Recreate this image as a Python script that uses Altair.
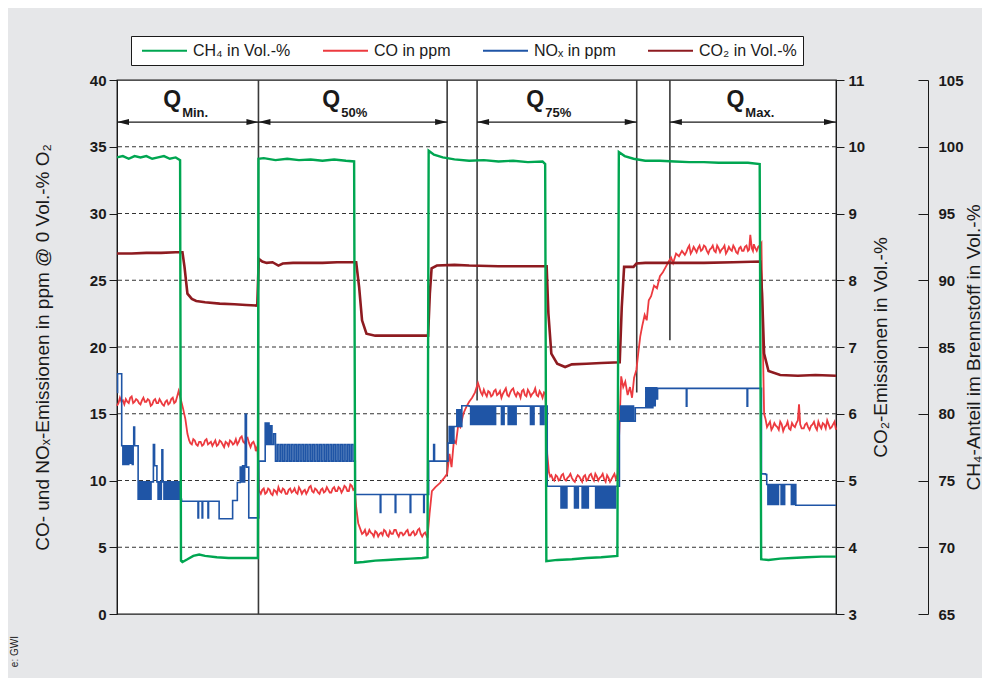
import altair as alt
import pandas as pd

# ---------------- data ----------------
series_names = ["CH₄ in Vol.-%", "CO in ppm", "NOₓ in ppm", "CO₂ in Vol.-%"]
series_colors = ["#00a651", "#ec3a3f", "#1f55a6", "#8e1b20"]

ch4_points = [
    (0, 99.2), (2, 99.3), (4, 99.1), (6, 99.3), (8, 99.2), (10, 99.3), (12, 99.1), (14, 99.2),
    (16, 99.3), (18, 99.1), (20, 99.2), (21.5, 99.0),
    (21.8, 69.0), (22.3, 68.9), (24, 69.1), (26, 69.35), (28, 69.45), (30, 69.35), (34, 69.25),
    (38, 69.2), (42, 69.2), (46, 69.2), (48.0, 69.2),
    (48.2, 99.1), (50, 99.15), (54, 99.0), (58, 99.1), (62, 99.0), (66, 99.05), (70, 98.95),
    (74, 99.05), (78, 98.95), (80.8, 98.9),
    (81.2, 68.85), (84, 68.9), (88, 69.0), (92, 69.05), (96, 69.1), (100, 69.15), (104, 69.2), (105.8, 69.25),
    (106.2, 99.7), (108, 99.4), (111, 99.2), (115, 99.05), (120, 98.95), (125, 99.0), (130, 98.9),
    (135, 98.95), (140, 98.85), (145, 98.9), (145.9, 98.7),
    (146.3, 68.95), (150, 69.05), (155, 69.1), (160, 69.2), (165, 69.25), (170.5, 69.35),
    (171.0, 99.6), (173, 99.3), (176, 99.1), (180, 98.95), (185, 98.95), (190, 98.9), (195, 98.85),
    (200, 98.85), (205, 98.8), (210, 98.8), (215, 98.8), (219.0, 98.7),
    (219.5, 69.1), (222, 69.05), (226, 69.15), (230, 69.2), (235, 69.25), (240, 69.3), (245, 69.3),
]

co2_points = [
    (0, 8.40), (5, 8.40), (10, 8.41), (15, 8.41), (20, 8.42), (22.3, 8.42), (23.0, 8.2), (24, 7.8),
    (25.5, 7.72), (27, 7.69), (30, 7.67), (35, 7.65), (40, 7.64), (44, 7.63), (47.8, 7.62),
    (48.3, 8.32), (49.5, 8.28), (51, 8.26), (53, 8.27), (55, 8.22), (56.5, 8.25), (60, 8.26),
    (65, 8.26), (70, 8.26), (75, 8.27), (81.5, 8.27), (82.5, 7.9), (83.5, 7.4), (85, 7.2),
    (88, 7.17), (95, 7.17), (100, 7.17), (106, 7.17), (106.6, 7.8), (107.2, 8.18), (109, 8.22),
    (115, 8.23), (120, 8.22), (130, 8.21), (140, 8.21), (146.4, 8.21), (147, 7.5), (148, 6.9),
    (150, 6.75), (152.7, 6.70), (155, 6.74), (160, 6.75), (165, 6.76), (171.3, 6.77), (172, 7.6),
    (172.8, 8.2), (176, 8.2), (177, 8.25), (180, 8.26), (190, 8.26), (200, 8.26), (210, 8.27),
    (219.2, 8.28), (219.8, 7.8), (220.5, 6.9), (222, 6.64), (226, 6.58), (232, 6.57), (238, 6.58),
    (245, 6.57),
]

co_points = [
    (0, 15.6), (0.5, 15.8), (1, 16.2), (1.5, 15.9), (2, 16.0), (2.5, 15.7), (3, 16.1), (3.5, 15.9),
    (4, 15.8), (4.5, 16.2), (5, 16.3), (5.5, 15.8), (6, 15.9), (6.5, 16.1), (7, 16.0), (7.5, 15.8),
    (8, 15.7), (8.5, 16.0), (9, 16.2), (9.5, 15.9), (10, 15.9), (10.5, 16.1), (11, 16.0), (11.5, 15.6),
    (12, 15.7), (12.5, 16.0), (13, 16.1), (13.5, 15.8), (14, 15.8), (14.5, 16.1), (15, 15.9),
    (15.5, 15.7), (16, 15.6), (16.5, 15.9), (17, 16.0), (17.5, 15.7), (18, 15.8), (18.5, 16.1),
    (19, 16.2), (19.5, 15.8), (20, 15.9), (20.5, 16.3), (21, 16.7), (21.7, 16.1),
    (22.5, 15.4), (23.3, 14.6), (24.0, 13.5), (24.6, 13.0),
    (25.0, 12.8), (25.5, 12.7), (26.0, 13.1), (26.5, 13.0), (27.0, 12.7), (27.5, 12.6), (28.0, 12.9),
    (28.5, 12.9), (29.0, 12.6), (29.5, 12.7), (30.0, 13.0), (30.5, 13.1), (31.0, 12.7), (31.5, 12.8),
    (32.0, 12.9), (32.5, 12.6), (33.0, 12.8), (33.5, 13.0), (34.0, 12.6), (34.5, 12.7), (35.0, 13.0),
    (35.5, 12.9), (36.0, 12.7), (36.5, 12.5), (37.0, 12.9), (37.5, 12.8), (38.0, 12.6), (38.5, 13.0),
    (39.0, 12.9), (39.5, 12.7), (40.0, 12.8), (40.5, 13.1), (41.0, 12.7), (41.5, 12.9), (42.0, 13.2),
    (42.5, 13.3), (43.0, 12.9), (43.5, 12.8), (44.0, 13.1), (44.5, 13.2), (45.0, 12.8), (45.5, 12.5),
    (46.0, 12.8), (46.5, 12.9), (47.0, 12.6), (47.3, 12.2), (47.9, 12.6),
    (48.3, 9.3), (49, 9.0), (49.5, 9.3), (50, 9.4), (50.5, 9.0), (51, 9.1), (51.5, 9.4), (52, 9.3),
    (52.5, 9.0), (53, 8.9), (53.5, 9.3), (54, 9.2), (54.5, 9.0), (55, 9.5), (55.5, 9.2), (56, 9.1),
    (56.5, 9.4), (57, 9.3), (57.5, 9.0), (58, 9.0), (58.5, 9.3), (59, 9.4), (59.5, 9.1), (60, 9.2),
    (60.5, 9.4), (61, 9.1), (61.5, 9.0), (62, 9.5), (62.5, 9.3), (63, 9.0), (63.5, 9.2), (64, 9.3),
    (64.5, 9.0), (65, 9.2), (65.5, 9.5), (66, 9.6), (66.5, 9.2), (67, 9.1), (67.5, 9.4), (68, 9.3),
    (68.5, 9.1), (69, 9.0), (69.5, 9.3), (70, 9.4), (70.5, 9.1), (71, 9.2), (71.5, 9.5), (72, 9.3),
    (72.5, 9.1), (73, 9.1), (73.5, 9.4), (74, 9.5), (74.5, 9.2), (75, 9.2), (75.5, 9.5), (76, 9.4),
    (76.5, 9.1), (77, 9.3), (77.5, 9.6), (78, 9.5), (78.5, 9.2), (79, 9.2), (79.5, 9.7), (80, 9.6),
    (80.5, 9.3), (81, 9.4),
    (81.5, 8.0), (82.2, 6.8), (83, 6.3),
    (83.5, 6.0), (84, 6.1), (84.5, 6.3), (85, 5.9), (85.5, 6.0), (86, 6.3), (86.5, 6.1), (87, 6.0),
    (87.5, 5.8), (88, 6.2), (88.5, 6.1), (89, 5.8), (89.5, 6.0), (90, 6.1), (90.5, 5.9), (91, 6.3),
    (91.5, 6.2), (92, 5.9), (92.5, 5.8), (93, 6.2), (93.5, 6.0), (94, 6.0), (94.5, 6.3), (95, 6.3),
    (95.5, 6.0), (96, 5.8), (96.5, 6.1), (97, 6.1), (97.5, 5.9), (98, 6.0), (98.5, 6.2), (99, 6.3),
    (99.5, 5.9), (100, 5.9), (100.5, 6.1), (101, 6.2), (101.5, 5.9), (102, 6.0), (102.5, 6.3),
    (103, 6.4), (103.5, 6.0), (104, 5.8), (104.5, 6.0), (105, 6.1), (105.8, 5.7),
    (106.5, 7.5), (107.3, 9.2), (108.5, 9.5), (110, 9.8), (111.5, 10.2), (112.5, 10.5), (113.3, 12.0),
    (114, 11.0), (114.8, 13.0), (115.5, 12.8), (116.3, 14.2), (117, 14.0), (118, 15.0), (119, 15.5),
    (120, 15.9), (121, 16.2), (122, 16.6), (123, 17.3), (124, 16.6),
    (124.5, 16.4), (125, 16.8), (125.5, 16.5), (126, 16.3), (126.5, 16.7), (127, 16.6), (127.5, 16.3),
    (128, 16.4), (128.5, 16.7), (129, 16.8), (129.5, 16.4), (130, 16.5), (130.5, 16.7), (131, 16.2),
    (131.5, 16.5), (132, 16.7), (132.5, 16.9), (133, 16.4), (133.5, 16.3), (134, 16.6), (134.5, 16.8),
    (135, 16.9), (135.5, 16.5), (136, 16.3), (136.5, 16.6), (137, 16.5), (137.5, 16.2), (138, 16.7),
    (138.5, 16.8), (139, 16.4), (139.5, 16.3), (140, 16.8), (140.5, 16.6), (141, 16.3), (141.5, 16.5),
    (142, 16.6), (142.5, 16.9), (143, 16.4), (143.5, 16.3), (144, 16.7), (144.5, 16.5), (145, 16.2),
    (145.5, 16.6), (146, 16.5),
    (146.6, 12.0), (147.2, 10.6),
    (147.6, 10.3), (148, 10.4), (148.5, 10.1), (149, 10.0), (149.5, 10.4), (150, 10.3), (150.5, 10.0),
    (151, 10.1), (151.5, 10.4), (152, 10.5), (152.5, 10.1), (153, 10.0), (153.5, 10.2), (154, 10.3),
    (154.5, 10.5), (155, 10.2), (155.5, 10.0), (156, 9.9), (156.5, 10.2), (157, 10.4), (157.5, 10.3),
    (158, 10.1), (158.5, 9.9), (159, 10.3), (159.5, 10.4), (160, 10.0), (160.5, 10.1), (161, 10.4),
    (161.5, 10.5), (162, 10.2), (162.5, 10.0), (163, 10.5), (163.5, 10.3), (164, 10.0), (164.5, 10.2),
    (165, 10.3), (165.5, 10.5), (166, 10.1), (166.5, 9.9), (167, 10.4), (167.5, 10.2), (168, 9.9),
    (168.5, 10.1), (169, 10.3), (169.5, 10.5), (170, 10.1), (170.6, 10.5),
    (171.2, 14.0), (171.8, 17.8), (172.5, 17.0), (173.2, 17.4), (174, 16.4), (174.8, 17.0),
    (175.5, 16.2), (176.2, 17.7), (177, 18.3), (177.6, 19.5), (178.3, 20.8), (179, 21.6),
    (179.8, 22.4), (180.5, 22.0), (181.2, 23.5), (182, 23.8), (183, 24.6), (184, 24.4),
    (185, 25.3), (186, 25.6), (187, 26.0), (188, 26.4), (188.8, 26.7), (189.5, 26.3),
    (190.5, 27.0), (191.5, 26.8), (192.5, 27.2), (193.5, 26.9),
    (194.0, 27.1), (194.5, 27.4), (195.0, 27.6), (195.5, 27.0), (196.0, 27.2), (196.5, 27.5),
    (197.0, 27.3), (197.5, 27.1), (198.0, 27.4), (198.5, 27.6), (199.0, 27.2), (199.5, 27.3),
    (200.0, 27.6), (200.5, 27.5), (201.0, 27.2), (201.5, 27.0), (202.0, 27.3), (202.5, 27.4),
    (203.0, 27.6), (203.5, 27.2), (204.0, 27.1), (204.5, 27.6), (205.0, 27.4), (205.5, 27.1),
    (206.0, 27.3), (206.5, 27.4), (207.0, 27.6), (207.5, 27.0), (208.0, 27.2), (208.5, 27.5),
    (209.0, 27.3), (209.5, 27.2), (210.0, 27.6), (210.5, 27.4), (211.0, 27.1), (211.5, 27.0),
    (212.0, 27.4), (212.5, 27.5), (213.0, 27.2), (213.5, 27.2), (214.0, 27.5), (214.5, 27.6),
    (215.0, 27.2), (215.4, 27.3), (215.8, 28.4), (216.3, 27.4), (216.7, 27.2), (217, 27.7),
    (217.5, 27.4), (218, 27.2), (218.5, 27.5), (219, 27.6), (219.6, 27.8),
    (220.1, 20.0), (220.5, 15.0), (221, 14.6),
    (221.5, 14.0), (222, 14.2), (222.5, 14.4), (223, 13.8), (223.5, 14.0), (224, 14.3), (224.5, 14.1),
    (225, 14.0), (225.5, 13.8), (226, 14.4), (226.5, 14.2), (227, 13.7), (227.5, 14.0), (228, 14.1),
    (228.5, 14.4), (229, 13.9), (229.5, 13.8), (230, 14.3), (230.5, 14.1), (231, 14.0), (231.5, 14.3),
    (232, 14.5), (232.4, 15.7), (232.8, 14.2), (233.3, 13.9), (234, 13.9), (234.5, 14.2), (235, 14.3),
    (235.5, 14.0), (236, 13.8), (236.5, 14.1), (237, 14.2), (237.5, 14.4), (238, 14.0), (238.5, 13.8),
    (239, 14.4), (239.5, 14.1), (240, 13.9), (240.5, 14.3), (241, 14.2), (241.5, 13.9), (242, 14.5),
    (242.5, 14.2), (243, 13.9), (243.5, 14.0), (244, 14.2), (244.5, 14.4), (245, 13.8),
]

nox_points = [
    (0, 16.6), (0.2, 18.0), (1.4, 18.0), (1.6, 12.6), (2.0, 11.2), (2.4, 12.6), (2.8, 11.2),
    (3.2, 12.6), (3.6, 11.2), (4.0, 12.6), (4.4, 11.3), (4.8, 12.6), (5.2, 11.2), (5.5, 12.6),
    (5.7, 14.0), (6.0, 12.6), (7.0, 12.6), (7.2, 8.6), (7.6, 9.9), (8.0, 8.6), (8.4, 9.9),
    (8.8, 8.6), (9.2, 9.9), (9.6, 8.6), (10.0, 9.9), (10.4, 8.6), (10.8, 9.9), (11.2, 8.6),
    (11.6, 9.9), (12.0, 9.9), (12.4, 12.7), (12.8, 11.1), (13.3, 11.1), (13.6, 9.9), (14.0, 8.6),
    (14.4, 9.9), (14.8, 8.6), (15.1, 9.9), (15.3, 12.3), (15.6, 9.9), (16.0, 8.6), (16.4, 9.9),
    (16.8, 8.6), (17.2, 9.9), (17.6, 8.6), (18.0, 9.9), (18.4, 8.6), (18.8, 9.9), (19.2, 8.6),
    (19.6, 9.9), (20.0, 8.6), (20.4, 9.9), (20.8, 8.6), (21.2, 9.9), (21.7, 8.6),
    (22.0, 8.45), (27.4, 8.45), (27.6, 7.2), (27.8, 8.45), (28.8, 8.45), (29.0, 7.2), (29.2, 8.45),
    (30.8, 8.45), (31.0, 7.2), (31.2, 8.45), (34.6, 8.45), (34.8, 7.13), (39.1, 7.13), (39.4, 8.5),
    (40.7, 8.5), (41.0, 9.85), (41.6, 9.85), (42.0, 11.0), (42.4, 9.9), (42.8, 11.1), (43.2, 9.9),
    (43.5, 11.1), (43.7, 14.95), (44.1, 11.0), (44.6, 11.0), (44.9, 7.2), (48.0, 7.2),
    (48.3, 11.45), (50.2, 11.45), (50.5, 14.3), (50.9, 12.7), (51.3, 14.3), (51.8, 12.7),
    (52.3, 14.1), (52.8, 12.7), (53.4, 13.5), (54.0, 11.45),
    (54.6, 12.7), (55.2, 11.45), (55.8, 12.7), (56.4, 11.45), (57.0, 12.7), (57.6, 11.45),
    (58.2, 12.7), (58.8, 11.45), (59.4, 12.7), (60.0, 11.45), (60.6, 12.7), (61.2, 11.45),
    (61.8, 12.7), (62.4, 11.45), (63.0, 12.7), (63.6, 11.45), (64.2, 12.7), (64.8, 11.45),
    (65.4, 12.7), (66.0, 11.45), (66.6, 12.7), (67.2, 11.45), (67.8, 12.7), (68.4, 11.45),
    (69.0, 12.7), (69.6, 11.45), (70.2, 12.7), (70.8, 11.45), (71.4, 12.7), (72.0, 11.45),
    (72.6, 12.7), (73.2, 11.45), (73.8, 12.7), (74.4, 11.45), (75.0, 12.7), (75.6, 11.45),
    (76.2, 12.7), (76.8, 11.45), (77.4, 12.7), (78.0, 11.45), (78.6, 12.7), (79.2, 11.45),
    (79.8, 12.7), (80.4, 11.45), (80.8, 11.45),
    (81.2, 8.95), (89.5, 8.95), (89.7, 7.6), (89.9, 8.95), (94.6, 8.95), (94.8, 7.6), (95.0, 8.95),
    (99.7, 8.95), (99.9, 7.6), (100.1, 8.95), (104.3, 8.95), (104.5, 7.6), (104.7, 8.95),
    (105.8, 8.95), (106.2, 11.45), (107.6, 11.45), (107.9, 12.7), (108.2, 11.45), (112.4, 11.45),
    (112.8, 12.8), (113.2, 14.05), (113.6, 12.8), (114.0, 14.05), (114.4, 12.8), (114.8, 14.05),
    (115.4, 14.05), (115.8, 15.3), (116.2, 14.05), (116.6, 15.3), (117.0, 14.05), (117.5, 15.6),
    (120.0, 15.57), (120.5, 14.2), (121.0, 15.57), (121.5, 14.2), (122.0, 15.57), (122.5, 14.2),
    (123.0, 15.57), (123.5, 14.2), (124.0, 15.57), (124.5, 14.2), (125.0, 15.57), (125.5, 14.2),
    (126.0, 15.57), (126.5, 14.2), (127.0, 15.57), (127.5, 14.2), (128.0, 15.57), (128.5, 14.2),
    (129.0, 15.57), (130.8, 15.57), (131.0, 14.2), (131.3, 15.57), (131.6, 14.2), (131.9, 15.57),
    (133.0, 15.57), (133.3, 14.2), (133.7, 15.57), (134.1, 14.2), (134.5, 15.57), (134.9, 14.2),
    (135.3, 15.57), (135.7, 14.2), (136.0, 15.57), (140.6, 15.57), (140.9, 14.2), (141.3, 15.57),
    (141.7, 14.2), (142.1, 15.57), (144.0, 15.57), (144.3, 14.2), (144.7, 15.57), (145.1, 14.2),
    (145.5, 15.57), (146.2, 15.57), (146.6, 9.57),
    (151.0, 9.57), (151.3, 7.95), (151.7, 9.57), (152.1, 7.95), (152.5, 9.57), (152.9, 7.95),
    (153.3, 9.57), (155.6, 9.57), (155.9, 7.95), (156.3, 9.57), (156.8, 7.95), (157.2, 9.57),
    (158.2, 9.57), (158.5, 7.95), (158.9, 9.57), (159.3, 7.95), (159.7, 9.57), (160.2, 7.95),
    (160.6, 9.57), (162.8, 9.57), (163.1, 7.95), (163.5, 9.57), (163.9, 7.95), (164.3, 9.57),
    (164.7, 7.95), (165.1, 9.57), (165.5, 7.95), (165.9, 9.57), (166.3, 7.95), (166.7, 9.57),
    (167.1, 7.95), (167.5, 9.57), (167.9, 7.95), (168.3, 9.57), (168.7, 7.95), (169.1, 9.57),
    (169.5, 7.95), (169.9, 9.57), (170.6, 9.57),
    (171.2, 14.45), (171.6, 15.57), (172.0, 14.45), (172.4, 15.57), (172.8, 14.45), (173.2, 15.57),
    (173.6, 14.45), (174.0, 15.57), (174.4, 14.45), (174.8, 15.57), (175.2, 14.45), (175.6, 15.57),
    (176.0, 14.45), (176.6, 15.45), (180.0, 15.45), (180.2, 16.95), (180.6, 15.45), (181.0, 16.95),
    (181.4, 15.45), (181.8, 16.95), (182.2, 15.45), (182.6, 16.95), (183.0, 15.6), (183.4, 16.95),
    (183.9, 16.1), (184.2, 16.9), (193.8, 16.9), (194.0, 15.57), (194.2, 16.9), (214.5, 16.9),
    (214.7, 15.57), (214.9, 16.9), (219.3, 16.9), (219.6, 10.5), (221.0, 10.45), (221.4, 9.7),
    (221.8, 8.2), (222.2, 9.7), (222.6, 8.2), (223.0, 9.7), (223.4, 8.2), (223.8, 9.7), (224.2, 8.2),
    (224.6, 9.7), (225.0, 8.2), (225.4, 9.7), (226.0, 9.7), (226.3, 8.2), (226.7, 9.7), (227.1, 8.2),
    (227.5, 9.7), (229.5, 9.7), (229.8, 8.2), (230.2, 9.7), (230.6, 8.2), (231.0, 9.7), (231.3, 8.15),
    (245, 8.15),
]

x_ticks = [0, 20, 40, 60, 80, 100, 120, 140, 160, 180, 200, 220, 240]
left_ticks = [0, 5, 10, 15, 20, 25, 30, 35, 40]
co2_ticks = [3, 4, 5, 6, 7, 8, 9, 10, 11]
ch4_ticks = [65, 70, 75, 80, 85, 90, 95, 100, 105]
grid_values = [5, 10, 15, 20, 25, 30, 35]

vline_t = [48.2, 112.5, 122.7, 177.1, 188.4]
vline_bottom = [0, 10.3, 16.0, 16.6, 20.5]

arrow_start = [0, 48.2, 122.7, 188.4]
arrow_end = [48.2, 112.5, 177.1, 245]
arrow_y = 36.85
q_center = [18.8, 73.0, 142.5, 210.7]
q_sub = ["Min.", "50%", "75%", "Max."]
q_y = 38.5

# ---------------- frames ----------------
def frame(points, name):
    return pd.DataFrame({"t": [p[0] for p in points], "v": [p[1] for p in points], "series": name})

df_co = frame(co_points, series_names[1])
df_nox = frame(nox_points, series_names[2])
df_co2 = frame(co2_points, series_names[3])
df_ch4 = frame(ch4_points, series_names[0])

df_grid = pd.DataFrame({"g": grid_values})
df_vl = pd.DataFrame({"t": vline_t, "top": [40] * len(vline_t), "bottom": vline_bottom})
df_arrow = pd.DataFrame({"start": arrow_start, "end": arrow_end, "y": [arrow_y] * len(arrow_start)})
df_q = pd.DataFrame({"t": q_center, "sub": q_sub, "y": [q_y] * len(q_center)})

W, H = 719, 534
BOLD = "Liberation Sans"
NARROW = "Liberation Sans Narrow, Arial Narrow, Liberation Sans, sans-serif"
INK = "#1a1a1a"

xscale = alt.Scale(domain=[0, 245], nice=False, zero=False)
yleft = alt.Scale(domain=[0, 40], nice=False, zero=False)

color = alt.Color(
    "series:N",
    scale=alt.Scale(domain=series_names, range=series_colors),
    legend=alt.Legend(
        orient="none", legendX=14, legendY=-44, direction="horizontal", columns=4,
        title=None, symbolType="M-3,0H3", symbolSize=225, symbolStrokeWidth=2,
        symbolOffset=19, labelOffset=20,
        labelFont=NARROW, labelFontSize=16, labelColor=INK,
        columnPadding=27, padding=6, strokeColor=INK, fillColor="white",
    ),
)

x_axis = alt.Axis(
    values=x_ticks, tickSize=6, tickColor=INK, domainColor=INK, labelFont=BOLD,
    labelFontWeight="bold", labelFontSize=15, labelColor=INK, labelPadding=3, grid=False,
    title="Zeit in min", titleFont=NARROW, titleFontSize=20, titleFontWeight="normal",
    titleColor=INK, titleY=63, titleBaseline="alphabetic",
)

grid = alt.Chart(df_grid).mark_rule(color="#333", strokeDash=[4, 3], strokeWidth=1).encode(
    y=alt.Y("g:Q", scale=yleft, axis=None)
)

vlines = alt.Chart(df_vl).mark_rule(color="#3a3a3a", strokeWidth=1.6).encode(
    x=alt.X("t:Q", scale=xscale, axis=None),
    y=alt.Y("top:Q", scale=yleft, axis=None),
    y2="bottom:Q",
)

shafts = alt.Chart(df_arrow).mark_rule(color=INK, strokeWidth=1.3).encode(
    x=alt.X("start:Q", scale=xscale, axis=None),
    x2="end:Q",
    y=alt.Y("y:Q", scale=yleft, axis=None),
)
head_r = alt.Chart(df_arrow).mark_point(
    shape="M0,0L-2,-0.5L-2,0.5Z", size=144, filled=True, color=INK, opacity=1, strokeWidth=0
).encode(x=alt.X("end:Q", scale=xscale, axis=None), y=alt.Y("y:Q", scale=yleft, axis=None))
head_l = alt.Chart(df_arrow).mark_point(
    shape="M0,0L2,-0.5L2,0.5Z", size=144, filled=True, color=INK, opacity=1, strokeWidth=0
).encode(x=alt.X("start:Q", scale=xscale, axis=None), y=alt.Y("y:Q", scale=yleft, axis=None))

q_text = alt.Chart(df_q).mark_text(
    text="Q", font=BOLD, fontWeight="bold", fontSize=23, color=INK, align="center", baseline="middle"
).encode(x=alt.X("t:Q", scale=xscale, axis=None), y=alt.Y("y:Q", scale=yleft, axis=None))
q_subtext = alt.Chart(df_q).mark_text(
    font=BOLD, fontWeight="bold", fontSize=13, color=INK, align="left", baseline="middle", dx=10, dy=13
).encode(
    x=alt.X("t:Q", scale=xscale, axis=None), y=alt.Y("y:Q", scale=yleft, axis=None), text="sub:N"
)

co_line = alt.Chart(df_co).mark_line(strokeWidth=1.8).encode(
    x=alt.X("t:Q", scale=xscale, axis=x_axis),
    y=alt.Y(
        "v:Q", scale=yleft,
        axis=alt.Axis(
            orient="left", values=left_ticks, tickSize=8, tickColor=INK, domainColor=INK,
            labelFont=BOLD, labelFontWeight="bold", labelFontSize=15, labelColor=INK,
            labelPadding=3, grid=False,
            title="CO- und NOₓ-Emissionen in ppm @ 0 Vol.-% O₂", titleFont=NARROW,
            titleFontSize=19, titleFontWeight="normal", titleColor=INK, titleAngle=270,
            titleX=-75, titleY=H / 2, titleBaseline="middle", titleAlign="center",
        ),
    ),
    color=color,
)

nox_line = alt.Chart(df_nox).mark_line(strokeWidth=1.6, interpolate="step-after").encode(
    x=alt.X("t:Q", scale=xscale, axis=None),
    y=alt.Y("v:Q", scale=yleft, axis=None),
    color=color,
)

co2_line = alt.Chart(df_co2).mark_line(strokeWidth=2.6).encode(
    x=alt.X("t:Q", scale=xscale, axis=None),
    y=alt.Y(
        "v:Q", scale=alt.Scale(domain=[3, 11], nice=False, zero=False),
        axis=alt.Axis(
            orient="right", values=co2_ticks, tickSize=8, tickColor=INK, domainColor=INK,
            labelFont=BOLD, labelFontWeight="bold", labelFontSize=15, labelColor=INK,
            labelPadding=4, grid=False,
            title="CO₂-Emissionen in Vol.-%", titleFont=NARROW, titleFontSize=19,
            titleFontWeight="normal", titleColor=INK, titleAngle=270,
            titleX=44, titleY=H / 2, titleBaseline="middle", titleAlign="center",
        ),
    ),
    color=color,
)

ch4_line = alt.Chart(df_ch4).mark_line(strokeWidth=2.4).encode(
    x=alt.X("t:Q", scale=xscale, axis=None),
    y=alt.Y(
        "v:Q", scale=alt.Scale(domain=[65, 105], nice=False, zero=False),
        axis=alt.Axis(
            orient="left", offset=-(W + 92), values=ch4_ticks, tickSize=10, tickColor=INK,
            domainColor=INK, labelFont=BOLD, labelFontWeight="bold", labelFontSize=15,
            labelColor=INK, labelAlign="left", labelPadding=-20, grid=False,
            title="CH₄-Anteil im Brennstoff in Vol.-%", titleFont=NARROW, titleFontSize=19,
            titleFontWeight="normal", titleColor=INK, titleAngle=270,
            titleX=45, titleY=H / 2, titleBaseline="middle", titleAlign="center",
        ),
    ),
    color=color,
)

source_note = alt.Chart(df_q.head(1)).mark_text(
    text="e: GWI", font=BOLD, fontSize=10, color=INK, angle=270, align="right", baseline="middle"
).encode(x=alt.value(-102), y=alt.value(556))

chart = alt.layer(
    grid, vlines, shafts, head_r, head_l, q_text, q_subtext,
    co_line, nox_line, co2_line, ch4_line, source_note
).resolve_scale(y="independent").properties(
    width=W, height=H,
    padding={"left": 109, "top": 72, "right": 146, "bottom": 64},
    autosize=alt.AutoSizeParams(type="none"),
    background="#e6e7e9",
).configure_view(fill="white", stroke=INK, strokeWidth=1.3)

chart.save("out.html", embed_options={"renderer": "svg", "actions": False})
